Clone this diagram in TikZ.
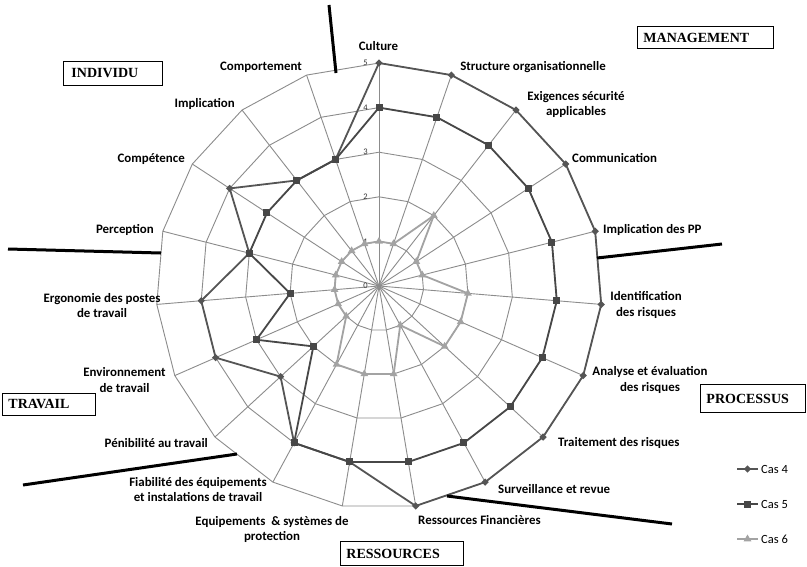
\documentclass[tikz,border=0pt]{standalone}
\usepackage{fontspec}
\setmainfont{Carlito}
\newfontfamily\serifb{Liberation Serif}
\usetikzlibrary{shapes.geometric}
\definecolor{gridc}{HTML}{8C8C8C}
\definecolor{cfour}{HTML}{555555}
\definecolor{cfive}{HTML}{474747}
\definecolor{csix}{HTML}{A3A3A3}
\begin{document}
\begin{tikzpicture}[x=1pt,y=1pt,
  gridline/.style={draw=gridc,line width=0.9pt},
  sepline/.style={draw=black,line width=3pt},
  lab/.style={font=\bfseries\fontsize{12.9}{15.5}\selectfont,inner sep=0pt,align=center},
  ticklab/.style={font=\fontsize{8.5}{9}\selectfont,inner sep=0pt,anchor=east,text=black!80},
  grp/.style={draw=black,line width=0.9pt,font=\serifb\bfseries\fontsize{14}{16}\selectfont,inner xsep=6pt,inner ysep=0pt,align=left},
  sfour/.style={draw=cfour,line width=1.8pt,line join=round},
  sfive/.style={draw=cfive,line width=1.8pt,line join=round},
  ssix/.style={draw=csix,line width=1.8pt,line join=round},
  mkfour/.style={diamond,fill=cfour,inner sep=0pt,minimum size=7.5pt},
  mkfive/.style={rectangle,fill=cfive,inner sep=0pt,minimum size=7pt},
  mksix/.style={regular polygon,regular polygon sides=3,fill=csix,inner sep=0pt,minimum size=9pt},
  legtext/.style={font=\fontsize{12.5}{14}\selectfont,anchor=west,inner sep=0pt}]
\fill[white] (0,0) rectangle (807,-566);
\useasboundingbox (0,0) rectangle (807,-566);

\begin{scope}[shift={(379,-286)}]
  \def\u{44.6}
  \coordinate (o) at (0,0);
  \foreach \k in {0,...,18} {
    \pgfmathsetmacro\ang{90-\k*360/19}
    \foreach \r in {1,...,5} { \coordinate (g\r-\k) at (\ang:\r*\u); }
  }
  \foreach \r in {1,...,5}
    \draw[gridline] (g\r-0) \foreach \k in {1,...,18}{ -- (g\r-\k)} -- cycle;
  \foreach \k in {0,...,18}
    \draw[gridline] (o) -- (g5-\k);
  % tick labels
  \foreach \r in {0,...,5}
    \node[ticklab] (tick\r) at (-11,\r*\u) {\r};
  % data
  \foreach \v [count=\i from 0] in {5,5,5,5,5,5,5,5,5,5,4,4,3,4,4,3,4,3,3}
    \coordinate (a-\i) at ({90-\i*360/19}:\v*\u);
  \foreach \v [count=\i from 0] in {4,4,4,4,4,4,4,4,4,4,4,4,2,3,2,3,3,3,3}
    \coordinate (b-\i) at ({90-\i*360/19}:\v*\u);
  \foreach \v [count=\i from 0] in {1,1,2,1,1,2,2,2,1,2,2,2,1,1,1,1,1,1,1}
    \coordinate (c-\i) at ({90-\i*360/19}:\v*\u);
  \draw[sfour] (a-0) \foreach \k in {1,...,18}{ -- (a-\k)} -- cycle;
  \foreach \k in {0,...,18} \node[mkfour] (ma-\k) at (a-\k) {};
  \draw[sfive] (b-0) \foreach \k in {1,...,18}{ -- (b-\k)} -- cycle;
  \foreach \k in {0,...,18} \node[mkfive] (mb-\k) at (b-\k) {};
  \draw[ssix] (c-0) \foreach \k in {1,...,18}{ -- (c-\k)} -- cycle;
  \foreach \k in {0,...,18} \node[mksix] (mc-\k) at (c-\k) {};
\end{scope}

% axis labels
\node[lab] (l0) at (378.5,-46) {Culture};
\node[lab] (l1) at (533,-67) {Structure organisationnelle};
\node[lab] (l2) at (576,-104.5) {Exigences sécurité\\applicables};
\node[lab,anchor=west] (l3) at (572,-158) {Communication};
\node[lab,anchor=west] (l4) at (603,-230) {Implication des PP};
\node[lab] (l5) at (646,-305) {Identification\\des risques};
\node[lab] (l6) at (650,-380) {Analyse et évaluation\\des risques};
\node[lab,anchor=west] (l7) at (558,-443) {Traitement des risques};
\node[lab,anchor=west] (l8) at (498,-489) {Surveillance et revue};
\node[lab,anchor=west] (l9) at (418,-520) {Ressources Financières};
\node[lab] (l10) at (272,-529.5) {Equipements \ \& systèmes de\\protection};
\node[lab] (l11) at (198,-489.5) {Fiabilité des équipements\\et instalations de travail};
\node[lab,anchor=east] (l12) at (208,-443) {Pénibilité au travail};
\node[lab] (l13) at (124.5,-380) {Environnement\\de travail};
\node[lab] (l14) at (102,-305.5) {Ergonomie des postes\\de travail};
\node[lab,anchor=east] (l15) at (154,-229.5) {Perception};
\node[lab,anchor=east] (l16) at (185,-159.5) {Compétence};
\node[lab,anchor=east] (l17) at (235,-103.5) {Implication};
\node[lab,anchor=east] (l18) at (302,-67) {Comportement};

% separators
\coordinate (sA1) at (336,-73);  \coordinate (sA2) at (329,-5);
\coordinate (sB1) at (597,-258); \coordinate (sB2) at (722,-244);
\coordinate (sC1) at (447,-496); \coordinate (sC2) at (672,-524);
\coordinate (sD1) at (237,-454); \coordinate (sD2) at (23,-485);
\coordinate (sE1) at (161,-253); \coordinate (sE2) at (8,-249);
\draw[sepline] (sA1) -- (sA2);
\draw[sepline] (sB1) -- (sB2);
\draw[sepline] (sC1) -- (sC2);
\draw[sepline] (sD1) -- (sD2);
\draw[sepline] (sE1) -- (sE2);

% group boxes
\node[grp,anchor=north west,text width=124pt,minimum height=22pt] (gM) at (637,-26) {MANAGEMENT};
\node[grp,anchor=north west,text width=83pt,minimum height=24pt,inner xsep=8pt] (gI) at (63,-61) {INDIVIDU};
\node[grp,anchor=north west,text width=93pt,minimum height=28pt] (gP) at (700,-384) {PROCESSUS};
\node[grp,anchor=north west,text width=81pt,minimum height=22pt] (gT) at (2,-393) {TRAVAIL};
\node[grp,anchor=north west,text width=111pt,minimum height=24pt] (gR) at (340,-541) {RESSOURCES};

% legend
\coordinate (k4a) at (737,-469); \coordinate (k4b) at (758,-469);
\coordinate (k5a) at (737,-504); \coordinate (k5b) at (758,-504);
\coordinate (k6a) at (737,-539); \coordinate (k6b) at (758,-539);
\draw[sfour] (k4a) -- (k4b);
\node[mkfour] (km4) at (747.5,-469) {};
\node[legtext] (kt4) at (761,-469) {Cas 4};
\draw[sfive] (k5a) -- (k5b);
\node[mkfive] (km5) at (747.5,-504) {};
\node[legtext] (kt5) at (761,-504) {Cas 5};
\draw[ssix] (k6a) -- (k6b);
\node[mksix] (km6) at (747.5,-539) {};
\node[legtext] (kt6) at (761,-539) {Cas 6};
\end{tikzpicture}
\end{document}
